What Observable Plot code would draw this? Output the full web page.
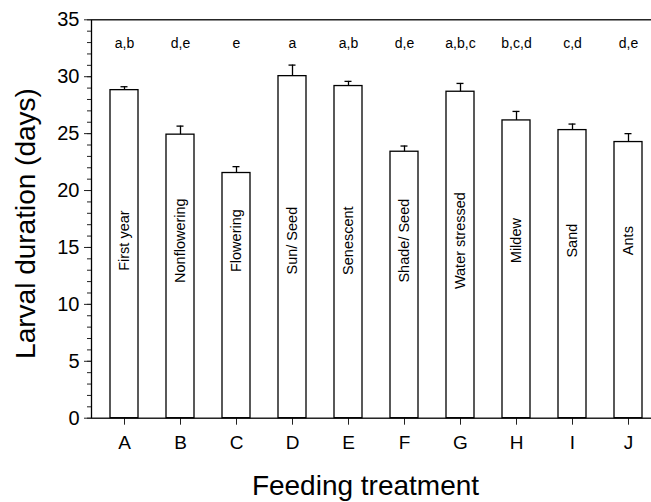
<!DOCTYPE html>
<html><head><meta charset="utf-8">
<script src="https://cdn.jsdelivr.net/npm/d3@7"></script>
<script src="https://cdn.jsdelivr.net/npm/@observablehq/plot@0.6"></script>
<style>body{margin:0;background:#fff} svg{display:block}</style>
</head><body><div id="chart"></div>
<script>
const treatments = ["A","B","C","D","E","F","G","H","I","J"];
const treatmentNames = ["First year","Nonflowering","Flowering","Sun/ Seed","Senescent","Shade/ Seed","Water stressed","Mildew","Sand","Ants"];
const meanDuration = [28.82,24.91,21.54,30.05,29.18,23.41,28.68,26.16,25.31,24.26];
const stdError = [0.30,0.75,0.56,0.97,0.41,0.50,0.73,0.79,0.53,0.74];
const groupLetters = ["a,b","d,e","e","a","a,b","d,e","a,b,c","b,c,d","c,d","d,e"];
const yMajorTicks = [0,5,10,15,20,25,30,35];
const yMinorTicks = [0,1,2,3,4,5,6,7,8,9,10,11,12,13,14,15,16,17,18,19,20,21,22,23,24,25,26,27,28,29,30,31,32,33,34,35];

const data = treatments.map((t, i) => ({
  treatment: t, name: treatmentNames[i], mean: meanDuration[i],
  upper: meanDuration[i] + stdError[i], letters: groupLetters[i]
}));

const letterLevel = 32.92;
const nameLevel = 15.6;

const chart = Plot.plot({
  width: 651,
  height: 502,
  marginTop: 19.3,
  marginBottom: 84.3,
  marginLeft: 91,
  marginRight: -1,
  style: {fontFamily: "'Liberation Sans', Arial, sans-serif", background: "#fff", color: "#000"},
  x: {type: "band", domain: treatments, range: [91, 660], paddingInner: 0.5, paddingOuter: 0.28, label: null},
  y: {domain: [0, 35], label: null},
  marks: [
    Plot.axisY({ticks: yMinorTicks, tickSize: 4, tickFormat: () => "", stroke: "#222"}),
    Plot.axisY({ticks: yMajorTicks, tickSize: 7, tickPadding: 5, fontSize: 20, stroke: "#222"}),
    Plot.axisX({tickSize: 7, tickPadding: 10, fontSize: 19, stroke: "#222"}),
    Plot.barY(data, {x: "treatment", y: "mean", fill: "white", stroke: "black", strokeWidth: 1.3}),
    Plot.ruleX(data, {x: "treatment", y1: "mean", y2: "upper", stroke: "black", strokeWidth: 1.3}),
    Plot.tickY(data, {x: "treatment", y: "upper", insetLeft: 10.5, insetRight: 10.5, stroke: "black", strokeWidth: 1.3}),
    Plot.frame({stroke: "black", strokeWidth: 1.3}),
    Plot.text(data, {x: "treatment", y: () => letterLevel, text: "letters", fontSize: 14, fill: "black"}),
    Plot.text(data, {x: "treatment", y: () => nameLevel, text: "name", rotate: -90, fontSize: 14.5, fill: "black"}),
    Plot.text(["Larval duration (days)"], {frameAnchor: "left", textAnchor: "middle", lineAnchor: "middle", rotate: -90, dx: -65, dy: 4.5, fontSize: 28, fill: "black"}),
    Plot.text(["Feeding treatment"], {frameAnchor: "bottom", textAnchor: "middle", lineAnchor: "middle", dx: -6.5, dy: 68, fontSize: 28, fill: "black"})
  ]
});
document.getElementById("chart").appendChild(chart);
</script>
</body></html>
